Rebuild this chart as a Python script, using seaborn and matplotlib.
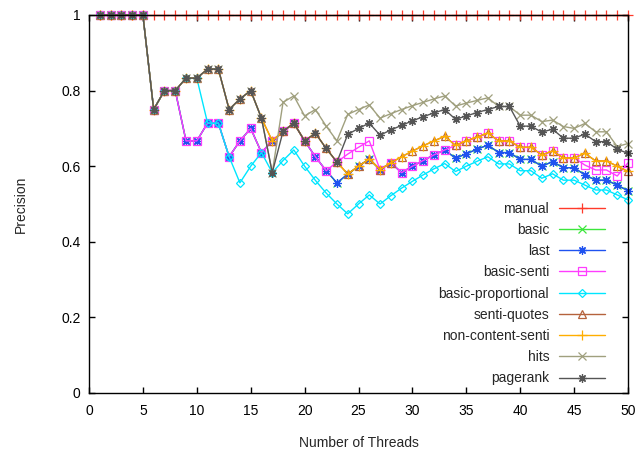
import matplotlib
matplotlib.use("Agg")
import matplotlib.pyplot as plt
import seaborn as sns
import pandas as pd

threads = list(range(1, 51))

manual = [1, 1, 1, 1, 1, 1, 1, 1, 1, 1, 1, 1, 1, 1, 1, 1, 1, 1, 1, 1, 1, 1, 1, 1, 1,
          1, 1, 1, 1, 1, 1, 1, 1, 1, 1, 1, 1, 1, 1, 1, 1, 1, 1, 1, 1, 1, 1, 1, 1, 1]

last = [1, 1, 1, 1, 1, 0.75, 0.8, 0.8, 0.667, 0.667, 0.714, 0.714, 0.625, 0.667, 0.7, 0.636,
        0.667, 0.692, 0.714, 0.667, 0.625, 0.588, 0.556, 0.579, 0.6, 0.619, 0.591, 0.609,
        0.583, 0.6, 0.615, 0.63, 0.643, 0.621, 0.633, 0.645, 0.656, 0.636, 0.636, 0.618,
        0.618, 0.6, 0.612, 0.596, 0.596, 0.577, 0.563, 0.563, 0.55, 0.535]

basic = [1, 1, 1, 1, 1, 0.75, 0.8, 0.8, 0.667, 0.667, 0.714, 0.714, 0.625, 0.667, 0.7, 0.636,
         0.667, 0.692, 0.714, 0.667, 0.625, 0.588, 0.556, 0.579, 0.6, 0.619, 0.591, 0.609,
         0.583, 0.6, 0.615, 0.63, 0.643, 0.621, 0.633, 0.645, 0.656, 0.636, 0.636, 0.618,
         0.618, 0.6, 0.612, 0.596, 0.596, 0.577, 0.563, 0.563, 0.55, 0.535]

basic_senti = [1, 1, 1, 1, 1, 0.75, 0.8, 0.8, 0.667, 0.667, 0.714, 0.714, 0.625, 0.667, 0.7, 0.636,
               0.667, 0.692, 0.714, 0.667, 0.625, 0.588, 0.611, 0.632, 0.65, 0.667, 0.591, 0.609,
               0.583, 0.6, 0.615, 0.63, 0.643, 0.655, 0.667, 0.677, 0.6875, 0.667, 0.667, 0.65,
               0.65, 0.63, 0.64, 0.622, 0.622, 0.603, 0.59, 0.59, 0.574, 0.609]

basic_proportional = [1, 1, 1, 1, 1, 0.75, 0.8, 0.8, 0.833, 0.833, 0.714, 0.714, 0.625, 0.556, 0.6, 0.636,
                      0.583, 0.615, 0.643, 0.6, 0.5625, 0.529, 0.5, 0.474, 0.5, 0.524, 0.5, 0.522,
                      0.542, 0.56, 0.577, 0.593, 0.607, 0.586, 0.6, 0.613, 0.625, 0.606, 0.606, 0.588,
                      0.588, 0.568, 0.58, 0.563, 0.563, 0.55, 0.537, 0.537, 0.524, 0.511]

senti_quotes = [1, 1, 1, 1, 1, 0.75, 0.8, 0.8, 0.833, 0.833, 0.857, 0.857, 0.75, 0.778, 0.8, 0.727,
                0.667, 0.692, 0.714, 0.667, 0.6875, 0.647, 0.611, 0.579, 0.6, 0.619, 0.591, 0.609,
                0.625, 0.64, 0.654, 0.667, 0.679, 0.655, 0.667, 0.677, 0.6875, 0.667, 0.667, 0.65,
                0.65, 0.63, 0.64, 0.622, 0.622, 0.634, 0.614, 0.614, 0.6, 0.586]

non_content_senti = [1, 1, 1, 1, 1, 0.75, 0.8, 0.8, 0.833, 0.833, 0.857, 0.857, 0.75, 0.778, 0.8, 0.727,
                     0.667, 0.692, 0.714, 0.667, 0.6875, 0.647, 0.611, 0.579, 0.6, 0.619, 0.591, 0.609,
                     0.625, 0.64, 0.654, 0.667, 0.679, 0.655, 0.667, 0.677, 0.6875, 0.667, 0.667, 0.65,
                     0.65, 0.63, 0.64, 0.622, 0.622, 0.634, 0.614, 0.614, 0.6, 0.586]

hits = [1, 1, 1, 1, 1, 0.75, 0.8, 0.8, 0.833, 0.833, 0.857, 0.857, 0.75, 0.778, 0.8, 0.727,
        0.583, 0.769, 0.786, 0.733, 0.75, 0.706, 0.667, 0.737, 0.75, 0.762, 0.727, 0.739,
        0.75, 0.76, 0.769, 0.778, 0.786, 0.759, 0.767, 0.774, 0.781, 0.758, 0.758, 0.735,
        0.735, 0.718, 0.722, 0.705, 0.7, 0.713, 0.691, 0.691, 0.652, 0.66]

pagerank = [1, 1, 1, 1, 1, 0.75, 0.8, 0.8, 0.833, 0.833, 0.857, 0.857, 0.75, 0.778, 0.8, 0.727,
            0.583, 0.692, 0.714, 0.667, 0.6875, 0.647, 0.611, 0.684, 0.7, 0.714, 0.682, 0.696,
            0.708, 0.72, 0.731, 0.741, 0.75, 0.724, 0.733, 0.742, 0.75, 0.758, 0.758, 0.706,
            0.706, 0.69, 0.698, 0.674, 0.674, 0.685, 0.665, 0.665, 0.645, 0.634]

x_ticks = [0, 5, 10, 15, 20, 25, 30, 35, 40, 45, 50]
x_tick_labels = ["0", "5", "10", "15", "20", "25", "30", "35", "40", "45", "50"]
y_ticks = [0, 0.2, 0.4, 0.6, 0.8, 1]
y_tick_labels = ["0", "0.2", "0.4", "0.6", "0.8", "1"]

series = [
    ("manual", manual, "#ff3a2a", "+", 6.5, True),
    ("basic", basic, "#3ce63c", "x", 5.5, True),
    ("last", last, "#1f52f0", (8, 2, 0), 6, True),
    ("basic-senti", basic_senti, "#ff3cff", "s", 5.8, False),
    ("basic-proportional", basic_proportional, "#00e6ff", "D", 4.0, False),
    ("senti-quotes", senti_quotes, "#b5623c", "^", 6.0, False),
    ("non-content-senti", non_content_senti, "#ffae00", "+", 6.5, True),
    ("hits", hits, "#a0a07e", "x", 5.5, True),
    ("pagerank", pagerank, "#555555", (8, 2, 0), 6, True),
]

sns.set_style("ticks")
plt.rcParams["font.family"] = ["Liberation Sans", "DejaVu Sans"]
plt.rcParams["font.size"] = 10

fig = plt.figure(figsize=(6.41, 4.51), dpi=100)
ax = fig.add_axes([89 / 641, 58 / 451, 539 / 641, 378 / 451])

for name, vals, color, marker, ms, filled in series:
    df = pd.DataFrame({"threads": threads, "precision": vals})
    sns.lineplot(data=df, x="threads", y="precision", ax=ax, color=color,
                 marker=marker, markersize=ms, linewidth=1.0,
                 markerfacecolor=(color if filled else "none"),
                 markeredgecolor=color, markeredgewidth=0.9,
                 label=name, clip_on=False)

ax.set_xlim(0, 50)
ax.set_ylim(0, 1)
ax.set_xticks(x_ticks)
ax.set_xticklabels(x_tick_labels)
ax.set_yticks(y_ticks)
ax.set_yticklabels(y_tick_labels)
ax.tick_params(direction="in", length=4.5, width=1, top=True, right=True,
               labelsize=10, colors="black")
ax.tick_params(axis="x", pad=8)
ax.tick_params(axis="y", pad=6)
for sp in ax.spines.values():
    sp.set_linewidth(1.0)
    sp.set_color("black")
    sp.set_visible(True)

ax.set_xlabel("Number of Threads", fontsize=10, labelpad=13)
ax.set_ylabel("Precision", fontsize=10, labelpad=24)

handles, labels = ax.get_legend_handles_labels()
ax.legend(handles, labels, loc="lower right", bbox_to_anchor=(0.957, 0.02),
          frameon=False, markerfirst=False, fontsize=10, handlelength=3.3,
          handletextpad=0.7, labelspacing=0.52, borderpad=0, borderaxespad=0)

fig.savefig("out.png", dpi=100)
